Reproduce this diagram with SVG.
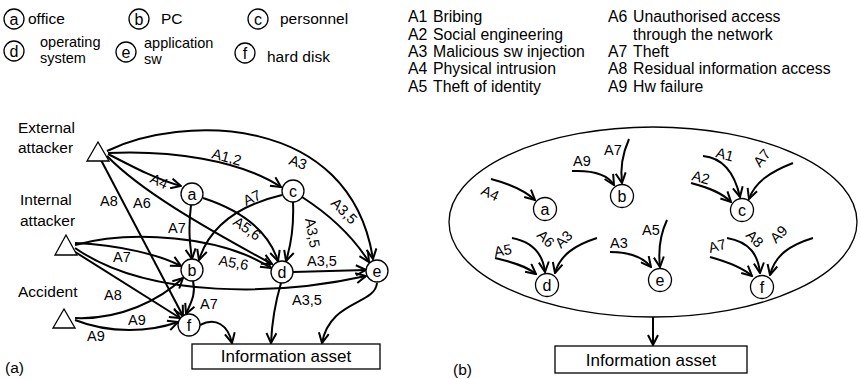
<svg xmlns="http://www.w3.org/2000/svg" width="861" height="379" viewBox="0 0 861 379">
<defs>
<marker id="ah" markerUnits="userSpaceOnUse" viewBox="0 0 12 12" markerWidth="12" markerHeight="12" refX="11" refY="6" orient="auto">
<path d="M1,1 L11,6 L1,11" fill="none" stroke="#000" stroke-width="2"/>
</marker>
</defs>
<style>
text{font-family:"Liberation Sans",Arial,sans-serif;fill:#000}
.lg{font-size:15.5px}
.lr{font-size:15.8px}
.l2{font-size:14.5px}
.nd{font-size:16px;text-anchor:middle}
.ia{font-size:17px;text-anchor:middle}
.lb{font-size:14.5px}
.c{fill:#fff;stroke:#000;stroke-width:1.3}
.tri{fill:#fff;stroke:#000;stroke-width:1.3}
.e{fill:none;stroke:#000;stroke-width:2;marker-end:url(#ah)}
.box{fill:#fff;stroke:#000;stroke-width:1.3}
</style>
<rect width="861" height="379" fill="#fff"/>

<!-- legend left -->
<g id="legend-nodes">
<circle class="c" cx="14" cy="19" r="10"/><text class="nd" x="14" y="25">a</text><text class="lg" x="28" y="24">office</text>
<circle class="c" cx="139" cy="19" r="10"/><text class="nd" x="139" y="25">b</text><text class="lg" x="161" y="24">PC</text>
<circle class="c" cx="258" cy="19" r="10"/><text class="nd" x="258" y="25">c</text><text class="lg" x="280" y="24">personnel</text>
<circle class="c" cx="14" cy="51" r="10"/><text class="nd" x="14" y="57">d</text><text class="l2" x="40" y="47">operating</text><text class="l2" x="40" y="63">system</text>
<circle class="c" cx="126" cy="52" r="10"/><text class="nd" x="126" y="58">e</text><text class="l2" x="144" y="48">application</text><text class="l2" x="144" y="64">sw</text>
<circle class="c" cx="245" cy="53" r="10"/><text class="nd" x="245" y="59">f</text><text class="lg" x="267" y="62">hard disk</text>
</g>

<!-- legend right -->
<g id="legend-attacks">
<text class="lr" x="408" y="22">A1</text><text class="lr" x="433" y="22">Bribing</text>
<text class="lr" x="408" y="40">A2</text><text class="lr" x="433" y="40">Social engineering</text>
<text class="lr" x="408" y="57">A3</text><text class="lr" x="433" y="57">Malicious sw injection</text>
<text class="lr" x="408" y="74">A4</text><text class="lr" x="433" y="74">Physical intrusion</text>
<text class="lr" x="408" y="92">A5</text><text class="lr" x="433" y="92">Theft of identity</text>
<text class="lr" x="608" y="22">A6</text><text class="lr" x="633" y="22">Unauthorised access</text>
<text class="lr" x="633" y="40">through the network</text>
<text class="lr" x="608" y="57">A7</text><text class="lr" x="633" y="57">Theft</text>
<text class="lr" x="608" y="74">A8</text><text class="lr" x="633" y="74">Residual information access</text>
<text class="lr" x="608" y="92">A9</text><text class="lr" x="633" y="92">Hw failure</text>
</g>

<!-- diagram (a) -->
<g id="a-connectors">
<path class="e" d="M107,151 C180,115 350,112 373,259"/>
<path class="e" d="M108,153 C170,150 240,160 281,187"/>
<path class="e" d="M108,154 C135,168 158,180 181,186"/>
<path class="e" d="M101,160 L183,316"/>
<path class="e" d="M107,156 C140,190 200,225 272,264"/>
<path class="e" d="M203,198 C240,210 268,230 278,261"/>
<path class="e" d="M191,205 C188,230 190,245 192,259"/>
<path class="e" d="M282,195 C240,205 210,225 199,260"/>
<path class="e" d="M293,202 C294,225 291,245 286,261"/>
<path class="e" d="M302,197 C330,215 352,235 369,262"/>
<path class="e" d="M293,272 L366,270"/>
<path class="e" d="M75,245 C130,230 220,235 271,268"/>
<path class="e" d="M75,243 C120,245 160,255 181,266"/>
<path class="e" d="M75,248 C150,300 280,295 366,276"/>
<path class="e" d="M72,250 L180,318"/>
<path class="e" d="M75,318 C120,320 160,300 183,278"/>
<path class="e" d="M75,320 C110,334 150,332 178,322"/>
<path class="e" d="M193,281 C196,295 191,302 186,314"/>
<path class="e" d="M200,325 C216,317 228,325 232,343"/>
<path class="e" d="M281,283 C276,300 272,320 271,343"/>
<path class="e" d="M377,283 C375,305 330,300 322,343"/>
</g>
<g id="a-labels">
<text class="lb" transform="translate(288,164) rotate(20)">A3</text>
<text class="lb" transform="translate(211,158) rotate(15)">A1,2</text>
<text class="lb" transform="translate(149,182) rotate(25)">A4</text>
<text class="lb" x="100" y="206">A8</text>
<text class="lb" x="133" y="208">A6</text>
<text class="lb" x="168" y="233">A7</text>
<text class="lb" transform="translate(246,206) rotate(-25)">A7</text>
<text class="lb" transform="translate(232,224) rotate(35)">A5,6</text>
<text class="lb" transform="translate(305,219) rotate(80)">A3,5</text>
<text class="lb" transform="translate(330,204) rotate(45)">A3,5</text>
<text class="lb" x="307" y="266">A3,5</text>
<text class="lb" transform="translate(218,265) rotate(10)">A5,6</text>
<text class="lb" x="113" y="262">A7</text>
<text class="lb" x="292" y="305">A3,5</text>
<text class="lb" x="104" y="300">A8</text>
<text class="lb" x="128" y="325">A9</text>
<text class="lb" x="87" y="341">A9</text>
<text class="lb" x="200" y="309">A7</text>
</g>
<g id="ext"><path class="tri" d="M98,142 L87,161 L109,161 Z"/><text class="lg" x="18" y="133">External</text><text class="lg" x="18" y="153">attacker</text></g>
<g id="int"><path class="tri" d="M66,235 L55,255 L77,255 Z"/><text class="lg" x="20" y="205">Internal</text><text class="lg" x="20" y="226">attacker</text></g>
<g id="acc"><path class="tri" d="M64,309 L53,328 L75,328 Z"/><text class="lg" x="18" y="297">Accident</text></g>
<g id="a-a"><circle class="c" cx="192" cy="194" r="11"/><text class="nd" x="192" y="200">a</text></g>
<g id="a-b"><circle class="c" cx="192" cy="270" r="11"/><text class="nd" x="192" y="276">b</text></g>
<g id="a-c"><circle class="c" cx="293" cy="191" r="11"/><text class="nd" x="293" y="197">c</text></g>
<g id="a-d"><circle class="c" cx="282" cy="272" r="11"/><text class="nd" x="282" y="278">d</text></g>
<g id="a-e"><circle class="c" cx="377" cy="271" r="11"/><text class="nd" x="377" y="277">e</text></g>
<g id="a-f"><circle class="c" cx="189" cy="325" r="11"/><text class="nd" x="189" y="331">f</text></g>
<g id="a-asset"><rect class="box" x="192" y="344" width="188" height="25"/><text class="ia" x="286" y="362">Information asset</text></g>
<text class="lg" x="5" y="373">(a)</text>

<!-- diagram (b) -->
<g id="b-scope"><ellipse cx="653" cy="222" rx="204" ry="95" fill="none" stroke="#000" stroke-width="1.3"/></g>
<g id="b-connectors">
<path class="e" d="M491,179 C510,184 524,190 535,200"/>
<path class="e" d="M572,171 C595,170 608,175 614,185"/>
<path class="e" d="M629,139 C622,155 620,168 622,183"/>
<path class="e" d="M703,156 C725,158 735,175 740,197"/>
<path class="e" d="M691,183 C710,188 722,193 731,202"/>
<path class="e" d="M793,163 C770,172 755,182 749,199"/>
<path class="e" d="M495,258 C512,262 526,266 536,274"/>
<path class="e" d="M512,238 C533,242 543,255 545,272"/>
<path class="e" d="M597,238 C575,245 560,255 555,273"/>
<path class="e" d="M667,220 C660,235 658,250 660,267"/>
<path class="e" d="M610,252 C630,252 643,257 651,267"/>
<path class="e" d="M710,257 C728,262 742,267 752,276"/>
<path class="e" d="M727,238 C750,242 758,255 760,273"/>
<path class="e" d="M813,238 C790,245 775,255 770,275"/>
<path class="e" d="M653,317 L653,345"/>
</g>
<g id="b-labels">
<text class="lb" transform="translate(480,194) rotate(25)">A4</text>
<text class="lb" x="573" y="166">A9</text>
<text class="lb" x="604" y="155">A7</text>
<text class="lb" transform="translate(715,157) rotate(15)">A1</text>
<text class="lb" transform="translate(691,180) rotate(15)">A2</text>
<text class="lb" transform="translate(760,168) rotate(-50)">A7</text>
<text class="lb" transform="translate(495,257) rotate(-10)">A5</text>
<text class="lb" transform="translate(536,236) rotate(45)">A6</text>
<text class="lb" transform="translate(561,249) rotate(-45)">A3</text>
<text class="lb" x="642" y="235">A5</text>
<text class="lb" x="610" y="248">A3</text>
<text class="lb" transform="translate(710,253) rotate(-15)">A7</text>
<text class="lb" transform="translate(745,236) rotate(45)">A8</text>
<text class="lb" transform="translate(776,244) rotate(-45)">A9</text>
</g>
<g id="b-a"><circle class="c" cx="545" cy="209" r="11.5"/><text class="nd" x="545" y="215">a</text></g>
<g id="b-b"><circle class="c" cx="622" cy="196" r="11.5"/><text class="nd" x="622" y="202">b</text></g>
<g id="b-c"><circle class="c" cx="742" cy="210" r="11.5"/><text class="nd" x="742" y="216">c</text></g>
<g id="b-d"><circle class="c" cx="547" cy="285" r="11.5"/><text class="nd" x="547" y="291">d</text></g>
<g id="b-e"><circle class="c" cx="660" cy="280" r="11.5"/><text class="nd" x="660" y="286">e</text></g>
<g id="b-f"><circle class="c" cx="762" cy="287" r="11.5"/><text class="nd" x="762" y="293">f</text></g>
<g id="b-asset"><rect class="box" x="555" y="346" width="192" height="27"/><text class="ia" x="651" y="366">Information asset</text></g>
<text class="lg" x="453" y="375">(b)</text>
</svg>
